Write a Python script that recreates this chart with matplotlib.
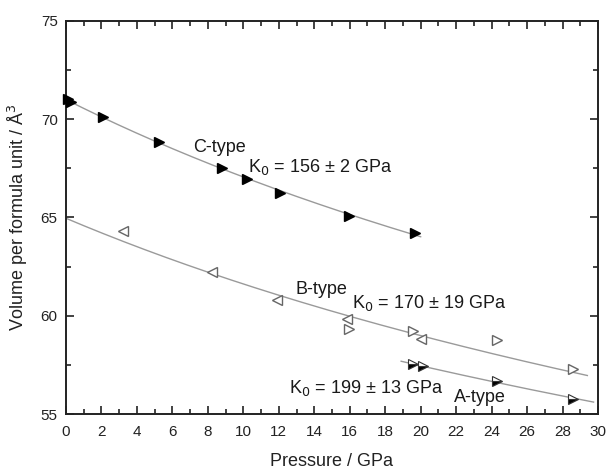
import numpy as np
import matplotlib
matplotlib.use("Agg")
import matplotlib.pyplot as plt
from matplotlib.ticker import MultipleLocator

plt.rcParams["font.family"] = ["Liberation Sans", "DejaVu Sans"]

# C-type (filled right triangles)
c_p = [0.10, 0.28, 2.09, 5.24, 8.78, 10.19, 12.07, 15.98, 19.69]
c_v = [71.02, 70.90, 70.13, 68.86, 67.50, 66.96, 66.26, 65.09, 64.20]

# B-type, two runs (open left / open right triangles)
b1_p = [3.20, 8.25, 11.88, 15.83, 20.04]
b1_v = [64.32, 62.21, 60.79, 59.82, 58.80]
b2_p = [15.98, 19.59, 24.28, 28.61]
b2_v = [59.34, 59.24, 58.77, 57.31]

# A-type (half-filled right triangles)
a_p = [19.59, 20.11, 24.28, 28.61]
a_v = [57.54, 57.44, 56.70, 55.75]

# Murnaghan EOS fits: V0 (A^3), K0 (GPa), K' and drawn pressure range
eos_v0 = {"C": 71.0, "B": 64.96, "A": 62.52}
eos_k0 = {"C": 156, "B": 170, "A": 199}
eos_kp = 4.0
eos_range = {"C": (0.0, 20.0), "B": (0.0, 29.4), "A": (18.9, 29.75)}

fig = plt.figure(figsize=(6.07, 4.69), dpi=100)
ax = fig.add_axes([66 / 607, 1 - 414 / 469, 532 / 607, 393 / 469])


def eos_curve(key):
    p = np.linspace(*eos_range[key], 200)
    v = eos_v0[key] * (1 + eos_kp * p / eos_k0[key]) ** (-1 / eos_kp)
    return p, v


for key in ("C", "B", "A"):
    ax.plot(*eos_curve(key), color="#9a9a9a", lw=1.0, zorder=1)

ax.plot(c_p, c_v, ls="none", marker=">", ms=7.5, color="black", zorder=3,
        clip_on=False)
ax.plot(b1_p, b1_v, ls="none", marker="<", ms=7.5, mfc="white",
        mec="#666666", mew=1.0, zorder=3)
ax.plot(b2_p, b2_v, ls="none", marker=">", ms=7.5, mfc="white",
        mec="#666666", mew=1.0, zorder=3)
ax.plot(a_p, a_v, ls="none", marker=">", ms=7.5, fillstyle="bottom",
        color="black", markerfacecoloralt="white", mec="#333333",
        mew=0.8, zorder=3)

txt = dict(fontsize=13, color="#1a1a1a", va="baseline")
ax.text(7.16, 68.33, "C-type", **txt)
ax.text(10.28, 67.33, "K$_0$ = 156 ± 2 GPa", **txt)
ax.text(12.92, 61.09, "B-type", **txt)
ax.text(16.11, 60.38, "K$_0$ = 170 ± 19 GPa", **txt)
ax.text(12.58, 56.05, "K$_0$ = 199 ± 13 GPa", **txt)
ax.text(21.88, 55.6, "A-type", **txt)

ax.set_xlim(0, 30)
ax.set_ylim(55, 75)
ax.xaxis.set_major_locator(MultipleLocator(2))
ax.xaxis.set_minor_locator(MultipleLocator(1))
ax.yaxis.set_major_locator(MultipleLocator(5))
ax.yaxis.set_minor_locator(MultipleLocator(2.5))
ax.tick_params(which="both", direction="in", top=True, right=True,
               labelsize=11, colors="#222222", width=1.2)
ax.tick_params(axis="x", pad=8)
ax.tick_params(axis="y", pad=6)
ax.tick_params(which="major", length=6)
ax.tick_params(which="minor", length=3.5)
for s in ax.spines.values():
    s.set_linewidth(1.4)
    s.set_color("#222222")

ax.set_xlabel("Pressure / GPa", fontsize=13, color="#222222", labelpad=10)
ax.set_ylabel("Volume per formula unit / Å$^3$", fontsize=13,
              color="#222222", labelpad=8)

fig.savefig("out.png", dpi=100)
